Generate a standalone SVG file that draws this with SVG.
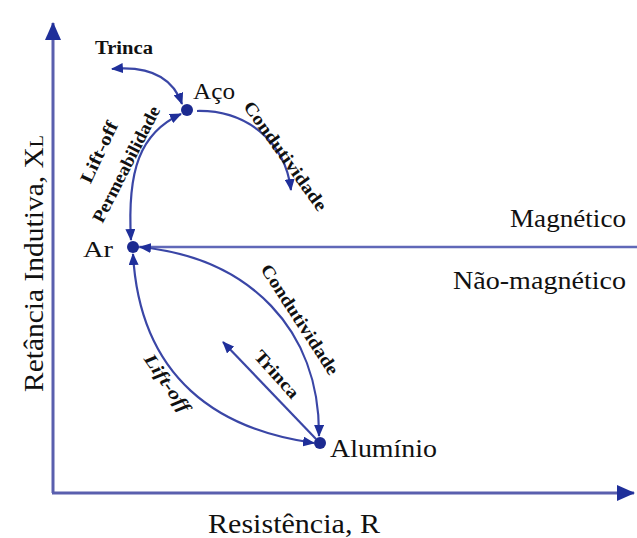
<svg xmlns="http://www.w3.org/2000/svg" width="637" height="538" viewBox="0 0 637 538">
<defs>
<style>
.ax{stroke:#5a5fae;stroke-width:3;fill:none}
.cv{stroke:#3a46a6;stroke-width:2.2;fill:none}
.dot{fill:#1c2a90}
text{font-family:'Liberation Serif',Times,serif;fill:#111}
.b{font-weight:bold;font-size:18px}
</style>
<marker id="ah" viewBox="0 0 12 10" refX="11" refY="5" markerWidth="12" markerHeight="10" markerUnits="userSpaceOnUse" orient="auto-start-reverse">
<path d="M0,0 L12,5 L0,10 Z" fill="#1f2f9a"/>
</marker>
<marker id="axh" viewBox="0 0 18 16" refX="17" refY="8" markerWidth="18" markerHeight="16" markerUnits="userSpaceOnUse" orient="auto">
<path d="M0,0 L18,8 L0,16 Z" fill="#1f2f9a"/>
</marker>
</defs>
<rect width="637" height="538" fill="#fff"/>

<g id="axes">
<line class="ax" x1="53" y1="493" x2="53" y2="23" marker-end="url(#axh)"/>
<line class="ax" x1="52" y1="493" x2="634" y2="493" marker-end="url(#axh)"/>
<line x1="136" y1="247" x2="637" y2="247" stroke="#6068b8" stroke-width="2.5"/>
</g>

<g id="connectors">
<path class="cv" d="M112,69 Q168,64 182,104" marker-start="url(#ah)" marker-end="url(#ah)"/>
<path class="cv" d="M197,111 C245,110 285,140 291,190" marker-end="url(#ah)"/>
<path class="cv" d="M131,240 C127,170 140,133 181,114" marker-start="url(#ah)" marker-end="url(#ah)"/>
<path class="cv" d="M140,247 C250,258 320,330 319,436" marker-start="url(#ah)" marker-end="url(#ah)"/>
<path class="cv" d="M133,254 C140,380 220,430 314,443" marker-start="url(#ah)" marker-end="url(#ah)"/>
<line class="cv" x1="316" y1="439" x2="223" y2="342" marker-end="url(#ah)"/>
</g>

<g id="node-aco">
<circle class="dot" cx="187" cy="110" r="6"/>
<text x="193" y="99" font-size="23" textLength="42" lengthAdjust="spacingAndGlyphs">Aço</text>
</g>
<g id="node-ar">
<circle class="dot" cx="133" cy="247" r="6"/>
<text x="83" y="257" font-size="24" textLength="30" lengthAdjust="spacingAndGlyphs">Ar</text>
</g>
<g id="node-aluminio">
<circle class="dot" cx="320" cy="443" r="6"/>
<text x="330" y="457" font-size="26" textLength="107" lengthAdjust="spacingAndGlyphs">Alumínio</text>
</g>

<g id="labels">
<text class="b" x="95" y="54" textLength="58" lengthAdjust="spacingAndGlyphs">Trinca</text>
<text class="b" text-anchor="middle" transform="translate(280.5,159.4) rotate(54.5)" textLength="130" lengthAdjust="spacingAndGlyphs">Condutividade</text>
<text class="b" text-anchor="middle" transform="translate(104.5,154.6) rotate(-64.8)" textLength="66" lengthAdjust="spacingAndGlyphs">Lift-off</text>
<text class="b" text-anchor="middle" transform="translate(131.5,167) rotate(-63)" textLength="128" lengthAdjust="spacingAndGlyphs">Permeabilidade</text>
<text class="b" text-anchor="middle" transform="translate(294.8,322.7) rotate(57)" textLength="128" lengthAdjust="spacingAndGlyphs">Condutividade</text>
<text class="b" text-anchor="middle" transform="translate(272.3,378.3) rotate(48)" textLength="58" lengthAdjust="spacingAndGlyphs">Trinca</text>
<text class="b" font-style="italic" text-anchor="middle" transform="translate(162.4,386.4) rotate(55)" textLength="67" lengthAdjust="spacingAndGlyphs">Lift-off</text>
<text x="626" y="227" font-size="26" text-anchor="end" textLength="116" lengthAdjust="spacingAndGlyphs">Magnético</text>
<text x="626" y="289" font-size="26" text-anchor="end" textLength="173" lengthAdjust="spacingAndGlyphs">Não-magnético</text>
<text x="208" y="533" font-size="27" textLength="172" lengthAdjust="spacingAndGlyphs">Resistência, R</text>
<text transform="translate(43,392) rotate(-90)" font-size="28" textLength="257" lengthAdjust="spacingAndGlyphs">Retância Indutiva, X<tspan font-size="19">L</tspan></text>
</g>
</svg>
